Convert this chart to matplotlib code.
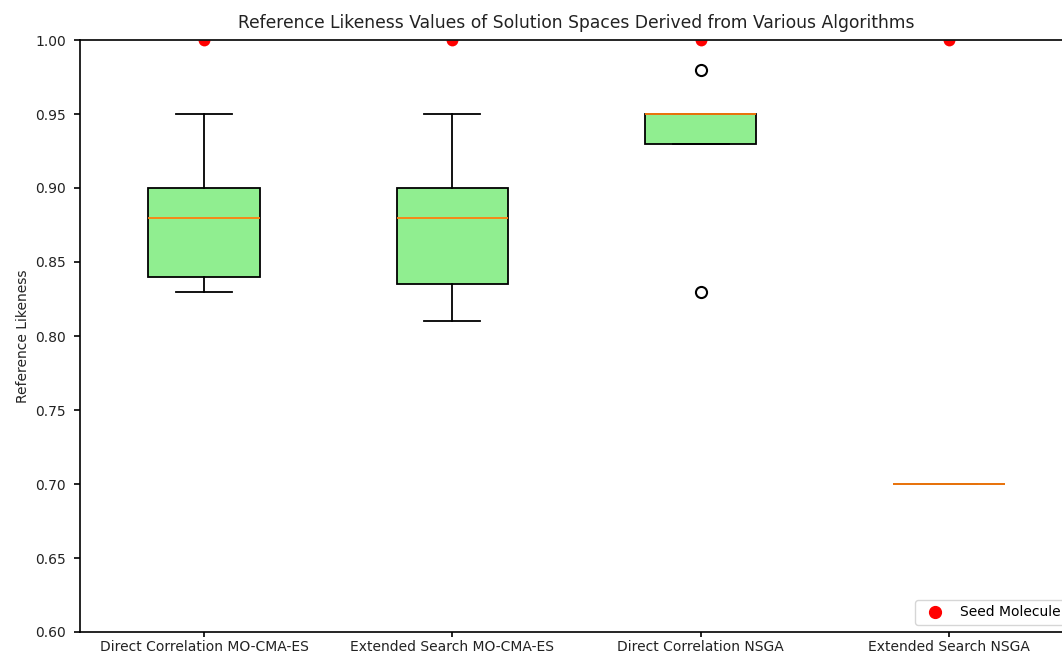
import matplotlib
matplotlib.use("Agg")
import matplotlib.pyplot as plt
from matplotlib.lines import Line2D

# summary statistics of the reference likeness per algorithm
labels = ["Direct Correlation MO-CMA-ES", "Extended Search MO-CMA-ES",
          "Direct Correlation NSGA", "Extended Search NSGA"]
whislo = [0.83, 0.81, 0.93, 0.70]
q1 = [0.84, 0.835, 0.93, 0.70]
medians = [0.88, 0.88, 0.95, 0.70]
q3 = [0.90, 0.90, 0.95, 0.70]
whishi = [0.95, 0.95, 0.95, 0.70]
fliers = [[], [], [0.98, 0.83], []]

# likeness of the seed molecule itself
seed = [1.0, 1.0, 1.0, 1.0]

stats = []
for i in range(len(labels)):
    stats.append(dict(label=labels[i], whislo=whislo[i], q1=q1[i], med=medians[i],
                      q3=q3[i], whishi=whishi[i], fliers=fliers[i]))

fig = plt.figure(figsize=(10.62, 6.56), dpi=100)
ax = fig.add_axes([80 / 1062, 24 / 656, 993 / 1062, 592 / 656])

bp = ax.bxp(stats, patch_artist=True, widths=0.45,
            flierprops=dict(marker="o", markersize=8, markerfacecolor="none",
                            markeredgecolor="black", markeredgewidth=1.5),
            boxprops=dict(linewidth=1.3),
            whiskerprops=dict(linewidth=1.3),
            capprops=dict(linewidth=1.3),
            medianprops=dict(color="#ff7f0e", linewidth=1.3))
for box in bp["boxes"]:
    box.set_facecolor("lightgreen")

# seed points sit on the top border, only the lower half is inside the axes
ax.plot(range(1, len(seed) + 1), seed, linestyle="none", marker="o",
        markersize=8.5, markerfacecolor="red", markerfacecoloralt="none",
        fillstyle="bottom", markeredgewidth=0, zorder=2)
seed_handle = Line2D([], [], linestyle="none", marker="o", markersize=8.5,
                     color="red", label="Seed Molecule")

ax.set_xlim(0.5, 4.5)
ax.set_ylim(0.6, 1.0)
ax.set_title("Reference Likeness Values of Solution Spaces Derived from Various Algorithms",
             fontsize=12.3, pad=9, color="#222222")
ax.set_ylabel("Reference Likeness", fontsize=10, color="#222222")
ax.tick_params(labelsize=10, width=1.2, labelcolor="#222222")
ax.tick_params(axis="x", length=3.5, pad=2.5)
ax.tick_params(axis="y", length=4.5, pad=5.5)
for s in ax.spines.values():
    s.set_linewidth(1.2)
ax.legend(handles=[seed_handle], loc="lower right", fontsize=10)

fig.savefig("out.png", dpi=100)
